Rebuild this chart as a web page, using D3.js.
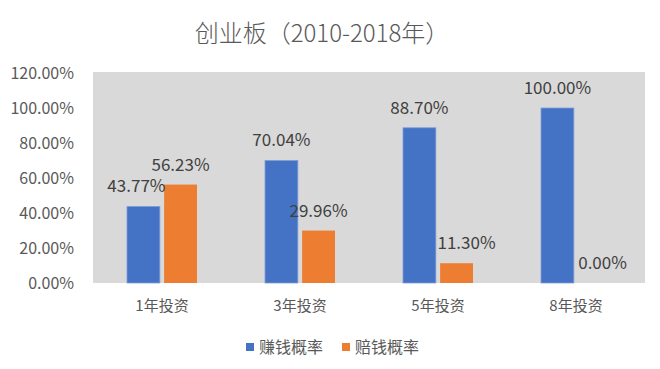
<!DOCTYPE html>
<html>
<head>
<meta charset="utf-8">
<script src="https://cdn.jsdelivr.net/npm/d3@7"></script>
<style>
  body { margin: 0; background: #fff; }
  text { font-family: "Noto Sans CJK SC", "Noto Sans", sans-serif; }
</style>
</head>
<body>
<div class="chart"></div>
<script>
// data
var categories = ["1年投资", "3年投资", "5年投资", "8年投资"];
var seriesNames = ["赚钱概率", "赔钱概率"];
var winValues = [43.77, 70.04, 88.70, 100.00];
var loseValues = [56.23, 29.96, 11.30, 0.00];
var yTicks = [0, 20, 40, 60, 80, 100, 120];
var colors = ["#4472c4", "#ed7d31"];

var width = 660, height = 369;
var margin = { top: 73, right: 15, bottom: 86, left: 93 };

var svg = d3.select(".chart").append("svg")
  .attr("width", width)
  .attr("height", height);

// title
svg.append("text")
  .attr("x", 322)
  .attr("y", 42)
  .attr("text-anchor", "middle")
  .style("font-size", "24px")
  .style("font-weight", 300)
  .style("fill", "#595959")
  .text("创业板（2010-2018年）");

var x = d3.scaleBand()
  .domain(categories)
  .range([margin.left, width - margin.right]);

var y = d3.scaleLinear()
  .domain([0, 120])
  .range([height - margin.bottom, margin.top]);

// plot background
svg.append("rect")
  .attr("x", margin.left)
  .attr("y", y(120) - 1)
  .attr("width", width - margin.right - margin.left)
  .attr("height", y(0) - y(120) + 1)
  .style("fill", "#d9d9d9");

// y axis labels
var yAxis = d3.axisLeft(y)
  .tickValues(yTicks)
  .tickSize(0)
  .tickPadding(19)
  .tickFormat(function (d) { return d.toFixed(2) + "%"; });

var yg = svg.append("g")
  .attr("transform", "translate(" + margin.left + ",0)")
  .call(yAxis);
yg.select(".domain").remove();
yg.selectAll("text")
  .style("font-size", "16px")
  .style("fill", "#595959");

// x axis labels
var xAxis = d3.axisBottom(x).tickSize(0).tickPadding(17);
var xg = svg.append("g")
  .attr("transform", "translate(0," + y(0) + ")")
  .call(xAxis);
xg.select(".domain").remove();
xg.selectAll("text")
  .style("font-size", "15px")
  .style("fill", "#595959");

// inner scale for the two series
var x1 = d3.scaleBand()
  .domain([0, 1])
  .range([x.bandwidth() / 2 - 35, x.bandwidth() / 2 + 35])
  .paddingInner(0.115);

var rows = categories.map(function (c, i) {
  return { cat: c, vals: [winValues[i], loseValues[i]] };
});

// small label nudges like the original (Excel moved a few to avoid overlap)
var labelNudge = { "0-0": -7, "2-1": 10, "3-1": 8 };

var groups = svg.selectAll("g.grp")
  .data(rows)
  .enter()
  .append("g")
  .attr("class", "grp")
  .attr("transform", function (d) { return "translate(" + x(d.cat) + ",0)"; });

groups.selectAll("rect")
  .data(function (d) { return d.vals; })
  .enter()
  .append("rect")
  .attr("x", function (d, j) { return x1(j); })
  .attr("y", function (d) { return y(d); })
  .attr("width", x1.bandwidth())
  .attr("height", function (d) { return y(0) - y(d); })
  .style("fill", function (d, j) { return colors[j]; })
  .style("stroke", function (d, j) { return j === 0 ? "#7f9fd8" : "none"; })
  .style("stroke-width", 0.8);

groups.each(function (row, i) {
  d3.select(this).selectAll("text.lbl")
    .data(row.vals)
    .enter()
    .append("text")
    .attr("class", "lbl")
    .attr("x", function (d, j) {
      return x1(j) + x1.bandwidth() / 2 + (labelNudge[i + "-" + j] || 0);
    })
    .attr("y", function (d) { return y(d) - 14; })
    .attr("text-anchor", "middle")
    .style("font-size", "17px")
    .style("fill", "#404040")
    .text(function (d) { return d.toFixed(2) + "%"; });
});

// legend
var legend = svg.append("g").attr("transform", "translate(246,347)");
var legendX = [0, 96];
seriesNames.forEach(function (name, j) {
  legend.append("rect")
    .attr("x", legendX[j])
    .attr("y", -4)
    .attr("width", 8)
    .attr("height", 8)
    .style("fill", colors[j]);
  legend.append("text")
    .attr("x", legendX[j] + 13)
    .attr("y", 0)
    .attr("dy", "0.35em")
    .style("font-size", "16px")
    .style("fill", "#595959")
    .text(name);
});
</script>
</body>
</html>
